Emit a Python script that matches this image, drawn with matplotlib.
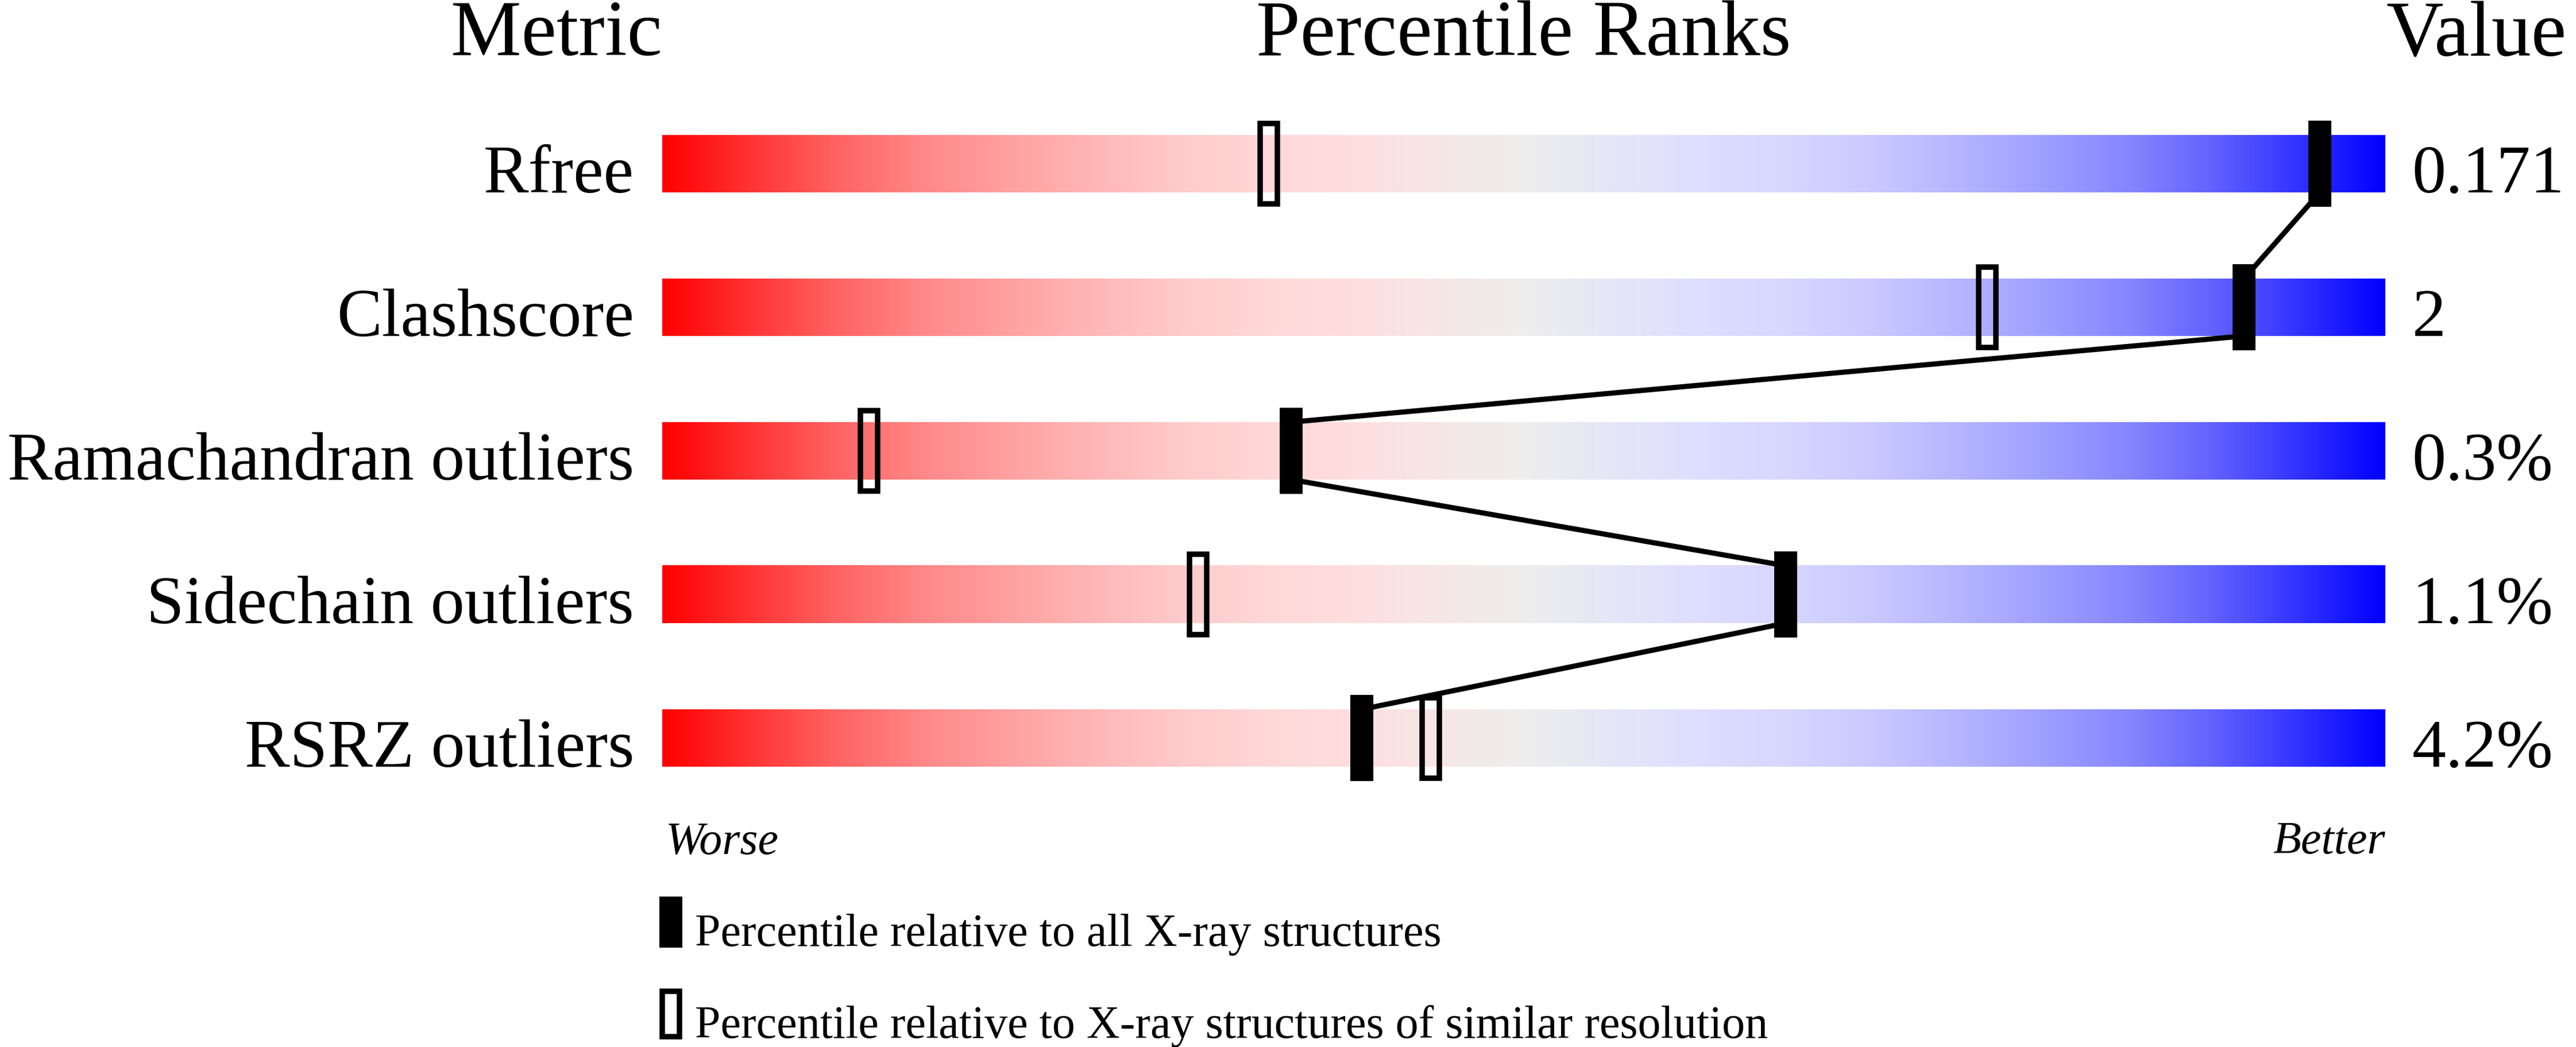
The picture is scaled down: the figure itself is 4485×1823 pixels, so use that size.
# Percentile ranks slider chart (validation summary style)

import numpy as np
import matplotlib.pyplot as plt
from matplotlib.colors import LinearSegmentedColormap
from matplotlib.patches import Rectangle

# Data
metrics = ['Rfree', 'Clashscore', 'Ramachandran outliers', 'Sidechain outliers', 'RSRZ outliers']
values = ['0.171', '2', '0.3%', '1.1%', '4.2%']
pct_all = [96.2, 91.8, 36.5, 65.2, 40.6]      # relative to all X-ray structures
pct_res = [35.2, 76.9, 12.0, 31.1, 44.6]      # relative to similar resolution
legend_labels = ['Percentile relative to all X-ray structures',
                 'Percentile relative to X-ray structures of similar resolution']

# Layout (pixels of the 4485x1824 output)
W, H, DPI = 4485, 1824, 100
bar_left, px_per_pct = 1153, 30.0
row0, row_step = 286, 250.0
bar_half = 50 / row_step
mk_w, mk_h = 40 / px_per_pct, 150 / row_step
edge_px = 9.5

def px_x(px):
    return (px - bar_left) / px_per_pct

def px_y(px):
    return (px - row0) / row_step

# Gradient red -> pale -> blue
red_side = [(0.0, 0), (0.05, 50), (0.10, 98), (0.15, 135), (0.20, 160),
            (0.25, 182), (0.30, 202), (0.35, 215), (0.40, 222)]
stops = [(t, (1.0, g / 255, g / 255)) for t, g in red_side]
stops.append((0.5, (0.933, 0.933, 0.933)))
stops += [(1 - t, (g / 255, g / 255, 1.0)) for t, g in reversed(red_side)]
cmap = LinearSegmentedColormap.from_list('slider', stops, N=1024)
grad = np.linspace(0, 1, 1024).reshape(1, -1)

serif = 'Liberation Serif'
title_fs = 138 * 0.72
label_fs = 118 * 0.72
small_fs = 80 * 0.72

fig = plt.figure(figsize=(W / DPI, H / DPI), dpi=DPI)
ax = fig.add_axes([0, 0, 1, 1])

for i, name in enumerate(metrics):
    ax.imshow(grad, cmap=cmap, aspect='auto', interpolation='bilinear',
              extent=(0, 100, i + bar_half, i - bar_half), zorder=1)
    ax.text(px_x(1104), i + bar_half - 0.004, name, ha='right', va='baseline',
            fontsize=label_fs, family=serif)
    ax.text(px_x(4200), i + bar_half - 0.004, values[i], ha='left', va='baseline',
            fontsize=label_fs, family=serif)

# connecting line between black markers
for i in range(len(pct_all) - 1):
    ax.plot([pct_all[i], pct_all[i + 1]], [i + bar_half, i + 1 - bar_half],
            color='black', lw=6.5, solid_capstyle='butt', zorder=2)

lw_pt = edge_px * 72 / DPI
ew, eh = edge_px / px_per_pct, edge_px / row_step
for i in range(len(metrics)):
    ax.add_patch(Rectangle((pct_res[i] - (mk_w - ew) / 2, i - (mk_h - eh) / 2),
                           mk_w - ew, mk_h - eh, fill=False, edgecolor='black',
                           lw=lw_pt, zorder=3))
    ax.add_patch(Rectangle((pct_all[i] - mk_w / 2, i - mk_h / 2), mk_w, mk_h,
                           facecolor='black', edgecolor='none', zorder=4))

# headers
ax.text(px_x(969), px_y(96), 'Metric', ha='center', va='baseline',
        fontsize=title_fs, family=serif)
ax.text(50, px_y(96), 'Percentile Ranks', ha='center', va='baseline',
        fontsize=title_fs, family=serif)
ax.text(px_x(4155), px_y(97), 'Value', ha='left', va='baseline',
        fontsize=title_fs, family=serif)

# worse / better
ax.text(0.2, px_y(1487), 'Worse', ha='left', va='baseline', fontsize=small_fs,
        family=serif, style='italic')
ax.text(100, px_y(1486), 'Better', ha='right', va='baseline', fontsize=small_fs,
        family=serif, style='italic')

# legend
leg_w, leg_h = 40 / px_per_pct, 89 / row_step
leg_y = [px_y(1606.5), px_y(1766.5)]
leg_base = [px_y(1647), px_y(1807)]
ax.add_patch(Rectangle((px_x(1148), leg_y[0] - leg_h / 2), leg_w, leg_h,
                       facecolor='black', edgecolor='none'))
ax.add_patch(Rectangle((px_x(1148) + ew / 2, leg_y[1] - (leg_h - eh) / 2),
                       leg_w - ew, leg_h - eh, fill=False, edgecolor='black', lw=lw_pt))
for yb, lab in zip(leg_base, legend_labels):
    ax.text(px_x(1210), yb, lab, ha='left', va='baseline', fontsize=small_fs,
            family=serif)

ax.set_xlim(px_x(0), px_x(W))
ax.set_ylim(px_y(H), px_y(0))
ax.axis('off')

plt.savefig('out.png', dpi=DPI)
